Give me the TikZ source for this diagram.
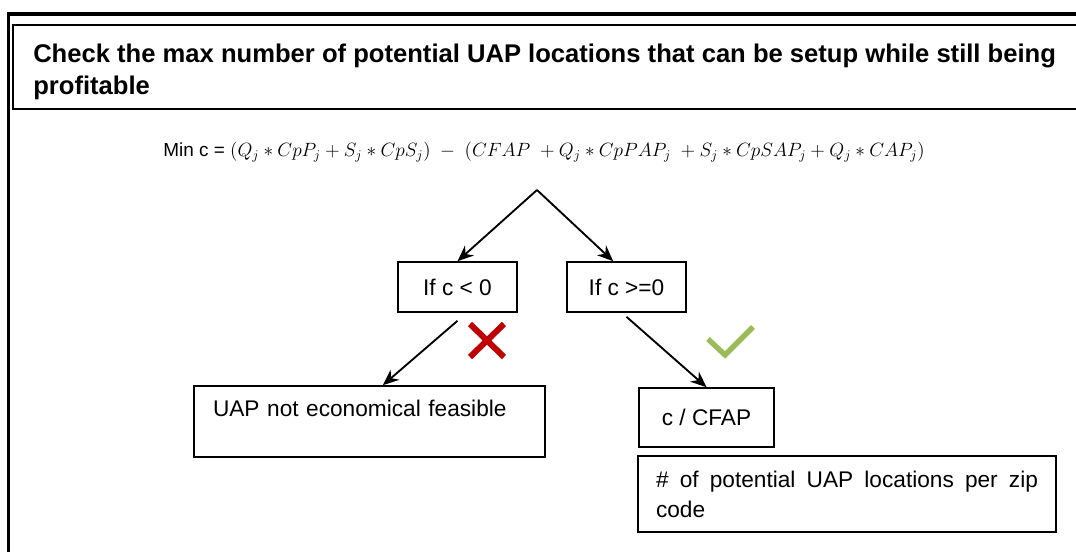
\documentclass[tikz,border=0pt]{standalone}
\usepackage{fontspec}
\setmainfont{Liberation Sans}
\usetikzlibrary{arrows.meta}

\definecolor{crossred}{HTML}{C00000}
\definecolor{tickgreen}{HTML}{9BBB59}

\tikzstyle{pxfig}=[x=0.75pt,y=-0.75pt]
\tikzstyle{decbox}=[draw,line width=1.2pt,inner sep=0pt,font=\fontsize{17}{20}\selectfont]
\tikzstyle{flow}=[line width=1.4pt,-{Stealth[length=12pt,width=10pt]}]

\begin{document}
\begin{tikzpicture}[style=pxfig]
\useasboundingbox (0,0) rectangle (1076,552);

% frame and title bar, cut off at the right edge
\begin{scope}
\clip (0,0) rectangle (1076,552);
\draw[line width=2.4pt] (8.5,560) -- (8.5,14) -- (1090,14);
\draw[line width=1.5pt] (13,25) rectangle (1090,109);
\end{scope}
\node[anchor=north west,inner sep=0pt,align=left,font=\fontsize{19.2}{24}\selectfont\bfseries] (title) at (33,44)
  {Check the max number of potential UAP locations that can be setup while still being\\profitable};

\node[font=\fontsize{14.2}{17}\selectfont] (eqn) at (544,152)
  {Min c = $\bigl(Q_j \ast CpP_j + S_j \ast CpS_j\bigr) \;-\; \bigl(CFAP \;+ Q_j \ast CpPAP_j \;+ S_j \ast CpSAP_j + Q_j \ast CAP_j\bigr)$};

\coordinate (apex) at (537,190);
\node[decbox,minimum width=89.25pt,minimum height=37.5pt] (ifneg) at (457.5,287) {If c < 0};
\node[decbox,minimum width=89.25pt,minimum height=37.5pt] (ifpos) at (626.5,287) {If c >=0};
\node[decbox,inner xsep=14.25pt,text width=234.75pt,align=left,text height=23.25pt,text depth=30pt] (notfeas) at (369.5,421.5)
  {UAP not economical feasible};
\node[decbox,minimum width=101.25pt,minimum height=44.25pt] (cfap) at (706.5,417.5) {c / CFAP};
\node[decbox,inner xsep=13.5pt,text width=286.5pt,align=justify,minimum height=57pt,font=\fontsize{17}{22.5}\selectfont] (zipnote) at (847,494)
  {\# of potential UAP locations per zip code};

\draw[flow] (apex) -- (ifneg.north);
\draw[flow] (apex) -- ([xshift=-10pt]ifpos.north);
\draw[flow] ([yshift=-6pt]ifneg.south) -- ([xshift=10pt]notfeas.north);
\draw[flow] ([yshift=-3pt]ifpos.south) -- (cfap.north);

% marks
\draw[crossred,line width=4.5pt] (470,324) -- (504,357) (504,324) -- (470,357);
\draw[tickgreen,line width=4pt] (708,339) -- (725,355) -- (753,327);
\end{tikzpicture}
\end{document}
